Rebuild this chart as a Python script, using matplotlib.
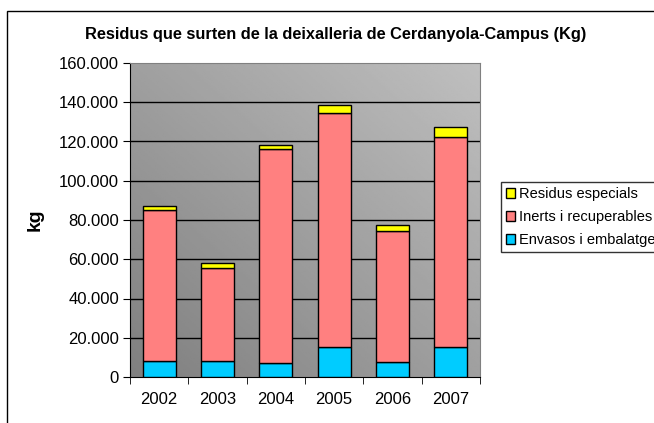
import numpy as np
import matplotlib.pyplot as plt
from matplotlib.patches import Rectangle

plt.rcParams['font.family'] = ['Liberation Sans', 'DejaVu Sans']

years = ['2002', '2003', '2004', '2005', '2006', '2007']
envasos = [8340, 8340, 7320, 15150, 7660, 15150]
inerts = [76590, 47315, 108930, 119310, 66720, 107220]
especials = [2040, 2555, 2210, 3910, 2890, 4770]

W, H = 654, 423
fig = plt.figure(figsize=(W / 100, H / 100), dpi=100)
ax = fig.add_axes([130 / W, (H - 377) / H, 350 / W, 314 / H])

x = np.arange(len(years))
bot2 = np.array(envasos) + np.array(inerts)

# fons amb degradat (fosc a baix-esquerra, clar a dalt-dreta)
gx, gy = np.meshgrid(np.linspace(0, 1, 200), np.linspace(0, 1, 200))
grad = (gx + gy) / 2
ax.imshow(grad, cmap='gray', vmin=-2, vmax=2, origin='lower',
          extent=[-0.5, 5.5, 0, 160000], aspect='auto', zorder=0)

ax.bar(x, envasos, width=0.57, color='#00ccff', edgecolor='black', lw=1,
       label='Envasos i embalatges', zorder=3)
ax.bar(x, inerts, width=0.57, bottom=envasos, color='#ff8080',
       edgecolor='black', lw=1, label='Inerts i recuperables', zorder=3)
ax.bar(x, especials, width=0.57, bottom=bot2, color='#ffff00',
       edgecolor='black', lw=1, label='Residus especials', zorder=3)

ax.set_xlim(-0.5, 5.5)
ax.set_ylim(0, 160000)
yt = np.arange(0, 160001, 20000)
ax.set_yticks(yt)
ax.set_yticklabels(['0'] + [f'{v // 1000}.000' for v in yt[1:]], fontsize=12)
ax.set_xticks(x)
ax.set_xticklabels(years, fontsize=12)
ax.set_xticks(np.arange(-0.5, 6, 1), minor=True)
ax.tick_params(axis='x', which='major', length=0, pad=11)
ax.tick_params(axis='x', which='minor', length=5, direction='out')
ax.tick_params(axis='y', length=5, direction='out', pad=3)
for v in yt[1:-1]:
    ax.axhline(v, color='black', lw=1, zorder=1)

for s in ['top', 'right']:
    ax.spines[s].set_color('#808080')
ax.spines['left'].set_color('black')
ax.spines['bottom'].set_color('black')

ax.set_ylabel('kg', fontsize=14, fontweight='bold', labelpad=11)
fig.text(336 / W, 1 - 35 / H, 'Residus que surten de la deixalleria de Cerdanyola-Campus (Kg)',
         ha='center', va='center', fontsize=11.8, fontweight='bold')

# la llegenda queda tallada per la dreta, com a l'original
h, l = ax.get_legend_handles_labels()
leg = fig.legend(h[::-1], l[::-1], loc='upper left',
                 bbox_to_anchor=(501 / W, 1 - 182 / H), fontsize=10.5,
                 frameon=True, fancybox=False, edgecolor='black',
                 handlelength=0.6, handleheight=0.6, handletextpad=0.3,
                 borderpad=0.35, labelspacing=0.62, borderaxespad=0)
leg.get_frame().set_linewidth(1)

# marc del grafic
fig.patches.append(Rectangle((7 / W, -0.1), 2, 1 - 11 / H + 0.1,
                             transform=fig.transFigure, fill=False,
                             edgecolor='black', lw=1))

fig.savefig('out.png', dpi=100)
